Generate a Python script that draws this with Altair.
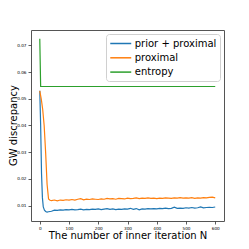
import altair as alt
import pandas as pd

series_names = ["prior + proximal", "proximal", "entropy"]
colors = ["#1f77b4", "#ff7f0e", "#2ca02c"]

x_prior = [0, 3, 6, 9, 12, 16, 20, 25, 30, 40, 50, 60, 70, 80, 90, 100, 110, 120, 130, 140,
           150, 160, 170, 180, 190, 200, 210, 220, 230, 240, 250, 260, 270, 280, 290, 300,
           310, 320, 330, 340, 350, 360, 370, 380, 390, 400, 410, 420, 430, 440, 450, 460,
           470, 480, 490, 500, 510, 520, 530, 540, 550, 560, 570, 580, 590, 600]
y_prior = [0.053, 0.040, 0.022, 0.013, 0.0095, 0.0083, 0.0078, 0.0076, 0.0077, 0.0079, 0.0083,
           0.0082, 0.0084, 0.0083, 0.0085, 0.0084, 0.0086, 0.0084, 0.0085, 0.0087, 0.0084,
           0.0086, 0.0085, 0.0087, 0.0086, 0.0088, 0.0085, 0.0087, 0.0089, 0.0086, 0.0088,
           0.0085, 0.0087, 0.0086, 0.0088, 0.0087, 0.0090, 0.0086, 0.0089, 0.0084, 0.0088,
           0.0087, 0.0089, 0.0088, 0.0089, 0.0088, 0.0090, 0.0089, 0.0091, 0.0089, 0.0090,
           0.0094, 0.0090, 0.0091, 0.0090, 0.0092, 0.0091, 0.0093, 0.0091, 0.0092, 0.0095,
           0.0092, 0.0093, 0.0094, 0.0093, 0.0095]

x_prox = [0, 5, 10, 15, 20, 25, 30, 35, 40, 50, 60, 70, 80, 90, 100, 110, 120, 130, 140,
          150, 160, 170, 180, 190, 200, 210, 220, 230, 240, 250, 260, 270, 280, 290, 300,
          310, 320, 330, 340, 350, 360, 370, 380, 390, 400, 410, 420, 430, 440, 450, 460,
          470, 480, 490, 500, 510, 520, 530, 540, 550, 560, 570, 580, 590, 600]
y_prox = [0.053, 0.050, 0.046, 0.040, 0.030, 0.018, 0.0125, 0.0120, 0.0119, 0.0121, 0.0118,
          0.0121, 0.0120, 0.0122, 0.0121, 0.0123, 0.0121, 0.0124, 0.0126, 0.0122, 0.0124,
          0.0123, 0.0125, 0.0124, 0.0123, 0.0125, 0.0124, 0.0127, 0.0125, 0.0126, 0.0124,
          0.0127, 0.0126, 0.0125, 0.0128, 0.0126, 0.0127, 0.0129, 0.0126, 0.0128, 0.0127,
          0.0129, 0.0127, 0.0128, 0.0126, 0.0128, 0.0127, 0.0129, 0.0128, 0.0127, 0.0129,
          0.0128, 0.0130, 0.0128, 0.0129, 0.0128, 0.0130, 0.0127, 0.0129, 0.0128, 0.0130,
          0.0129, 0.0131, 0.0132, 0.0129]

x_ent = [0, 3, 600]
y_ent = [0.0725, 0.0546, 0.0546]

x_ticks = [0, 100, 200, 300, 400, 500, 600]
y_ticks = [0.01, 0.02, 0.03, 0.04, 0.05, 0.06, 0.07]

rows = []
for name, xs, ys in [(series_names[0], x_prior, y_prior),
                     (series_names[1], x_prox, y_prox),
                     (series_names[2], x_ent, y_ent)]:
    for i, (a, b) in enumerate(zip(xs, ys)):
        rows.append({"N": a, "gw": b, "method": name, "order": i})
df = pd.DataFrame(rows)

chart = alt.Chart(df).mark_line(strokeWidth=1.2).encode(
    x=alt.X("N:Q", scale=alt.Scale(domain=[-30, 630], nice=False, zero=False),
            axis=alt.Axis(values=x_ticks, title="The number of inner iteration N", format="d")),
    y=alt.Y("gw:Q", scale=alt.Scale(domain=[0.00425, 0.07575], nice=False, zero=False),
            axis=alt.Axis(values=y_ticks, title="GW discrepancy", format=".2f",
                          titleX=-23, titleY=95, titleBaseline="top", titleAngle=270,
                          titleAlign="center")),
    color=alt.Color("method:N", scale=alt.Scale(domain=series_names, range=colors),
                    sort=series_names,
                    legend=alt.Legend(title=None, orient="top-right", offset=4,
                                      fillColor="white", strokeColor="#d0d0d0",
                                      cornerRadius=3, padding=3.5,
                                      labelFontSize=10, labelFont="DejaVu Sans",
                                      symbolType="M-2,0H2", symbolSize=110,
                                      symbolOffset=5.25,
                                      symbolStrokeWidth=1.5, rowPadding=3.3,
                                      labelOffset=8, labelColor="black")),
    order="order:Q",
).properties(
    width=193, height=191,
    autosize=alt.AutoSizeParams(type="none"),
    padding={"left": 23, "top": 22, "right": 10, "bottom": 20},
).configure_view(
    stroke="#555555", strokeWidth=1
).configure_axis(
    grid=False, domain=False, tickColor="#333333", tickSize=3, tickWidth=0.8,
    labelFontSize=4.2, labelFont="DejaVu Sans", labelColor="black",
    titleFont="DejaVu Sans", titleFontSize=10, titleFontWeight="normal", titleColor="black",
).configure_axisX(
    labelPadding=2, titlePadding=0
).configure_axisY(
    labelPadding=2
)

chart.save("out.html", embed_options={"renderer": "svg", "actions": False})
